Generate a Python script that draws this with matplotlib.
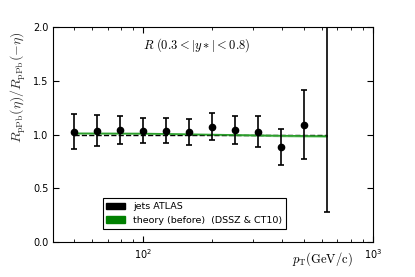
import numpy as np
import matplotlib
matplotlib.use("Agg")
import matplotlib.pyplot as plt
from matplotlib.patches import Patch

plt.rcParams['mathtext.fontset'] = 'cm'

# data
pt = [50, 63, 79, 100, 126, 158, 200, 251, 316, 398, 501, 631]
ratio = [1.028, 1.037, 1.047, 1.037, 1.034, 1.025, 1.071, 1.047, 1.025, 0.888, 1.093, 2.3]
err_lo = [0.162, 0.143, 0.134, 0.118, 0.115, 0.118, 0.124, 0.134, 0.140, 0.174, 0.320, 2.024]
err_hi = [0.161, 0.146, 0.127, 0.115, 0.118, 0.118, 0.134, 0.127, 0.146, 0.168, 0.323, 1.0]

theo_pt = [50, 100, 200, 400, 631]
theo = [1.012, 1.010, 1.000, 0.990, 0.985]
theo_lo = [1.004, 1.002, 0.992, 0.980, 0.975]
theo_hi = [1.020, 1.018, 1.008, 1.000, 0.995]

fig = plt.figure(figsize=(4.15, 2.77), dpi=100)
ax = fig.add_axes([0.128, 0.126, 0.771, 0.776])

ax.plot([pt[0], pt[-1]], [1.0, 1.0], 'k--', lw=1.0)
ax.fill_between(theo_pt, theo_lo, theo_hi, color='#90d890', lw=0)
ax.plot(theo_pt, theo, color='#2ca02c', lw=1.2)
ax.errorbar(pt, ratio, yerr=[err_lo, err_hi], fmt='o', color='k', ms=4.5,
            capsize=2.5, capthick=1.2, elinewidth=1.2)

ax.set_xscale('log')
ax.set_xlim(40.5, 1000)
ax.set_ylim(0, 2.0)
ax.set_yticks([0, 0.5, 1.0, 1.5, 2.0])
ax.tick_params(which='both', direction='in', top=True, right=True, labelsize=7)
ax.tick_params(which='major', length=4)
ax.tick_params(which='minor', length=2)

ax.set_ylabel(r'$R_{\rm pPb}(\eta)/R_{\rm pPb}(-\eta)$', fontsize=10, color='#333333')
ax.yaxis.set_label_coords(-0.077, 0.72)
fig.text(0.778, 0.065, r'$p_{\rm T}(\rm GeV/c)$', fontsize=9, ha='center', va='center')
ax.text(0.45, 0.915, r'$R\ (0.3<|y*|<0.8)$', transform=ax.transAxes,
        ha='center', va='center', fontsize=9)

handles = [Patch(color='black', label='jets ATLAS'),
           Patch(color='green', label='theory (before)  (DSSZ & CT10)')]
leg = ax.legend(handles=handles, loc='lower left', bbox_to_anchor=(0.14, 0.04),
                fontsize=6.8, fancybox=False, edgecolor='black', framealpha=1)
leg.get_frame().set_linewidth(0.8)

fig.savefig('out.png', dpi=100)
